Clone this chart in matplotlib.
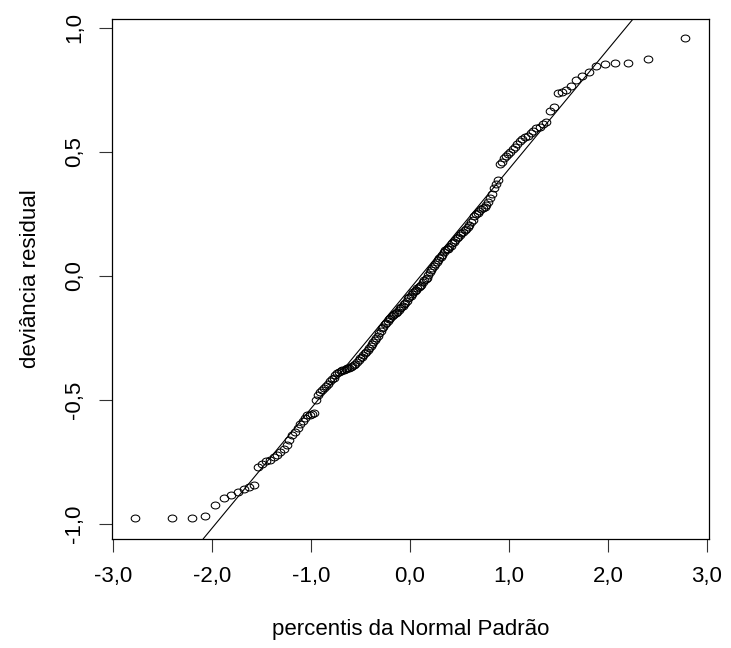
import matplotlib
matplotlib.use("Agg")
import matplotlib.pyplot as plt
import numpy as np
from matplotlib.path import Path
from matplotlib.transforms import Affine2D
from statistics import NormalDist

plt.rcParams["font.family"] = ["Liberation Sans", "DejaVu Sans"]

# Deviance residuals of the fitted model (sorted)
residuals = [
    -0.977, -0.977, -0.977, -0.967, -0.924, -0.897, -0.882, -0.872, -0.860, -0.850,
    -0.843, -0.769, -0.757, -0.748, -0.740, -0.731, -0.720, -0.709, -0.696, -0.682,
    -0.662, -0.643, -0.628, -0.612, -0.598, -0.586, -0.572, -0.562, -0.559, -0.556,
    -0.552, -0.500, -0.482, -0.470, -0.461, -0.451, -0.442, -0.434, -0.425, -0.417,
    -0.410, -0.399, -0.393, -0.389, -0.385, -0.381, -0.378, -0.376, -0.373, -0.370,
    -0.366, -0.362, -0.360, -0.357, -0.348, -0.340, -0.333, -0.326, -0.318, -0.312,
    -0.305, -0.299, -0.290, -0.282, -0.273, -0.265, -0.258, -0.250, -0.242, -0.232,
    -0.222, -0.212, -0.205, -0.195, -0.188, -0.182, -0.175, -0.168, -0.163, -0.158,
    -0.155, -0.150, -0.145, -0.138, -0.130, -0.125, -0.120, -0.115, -0.110, -0.100,
    -0.090, -0.085, -0.080, -0.072, -0.066, -0.060, -0.056, -0.050, -0.045, -0.040,
    -0.035, -0.025, -0.018, -0.012, -0.008, 0.005, 0.015, 0.025, 0.032, 0.038,
    0.046, 0.055, 0.062, 0.070, 0.077, 0.085, 0.095, 0.103, 0.107, 0.110,
    0.115, 0.122, 0.131, 0.138, 0.145, 0.152, 0.158, 0.165, 0.172, 0.178,
    0.185, 0.190, 0.195, 0.205, 0.215, 0.225, 0.240, 0.250, 0.255, 0.262,
    0.270, 0.275, 0.278, 0.285, 0.298, 0.313, 0.330, 0.354, 0.370, 0.386,
    0.450, 0.458, 0.473, 0.482, 0.490, 0.500, 0.510, 0.520, 0.530, 0.545,
    0.552, 0.558, 0.565, 0.575, 0.585, 0.595, 0.600, 0.610, 0.620, 0.665,
    0.680, 0.735, 0.742, 0.750, 0.765, 0.790, 0.805, 0.822, 0.845, 0.855,
    0.858, 0.858, 0.872, 0.959,
]

# Reference line drawn over the points
line_intercept = -0.052
line_slope = 0.482

x_ticks = [-3.0, -2.0, -1.0, 0.0, 1.0, 2.0, 3.0]
x_tick_labels = ["-3,0", "-2,0", "-1,0", "0,0", "1,0", "2,0", "3,0"]
y_ticks = [-1.0, -0.5, 0.0, 0.5, 1.0]
y_tick_labels = ["-1,0", "-0,5", "0,0", "0,5", "1,0"]

x_title = "percentis da Normal Padrão"
y_title = "deviância residual"

# Normal QQ coordinates: theoretical quantiles at plotting positions (i - 0.5) / n
std_normal = NormalDist()
dev = np.sort(np.asarray(residuals))
n = len(dev)
probs = (np.arange(1, n + 1) - 0.5) / n
theo = np.array([std_normal.inv_cdf(p) for p in probs])

# Slightly wide open-circle marker
oval = Path.unit_circle().transformed(Affine2D().scale(1.25, 1.0))

fig = plt.figure(figsize=(7.31, 6.48), dpi=100)
ax = fig.add_axes([0.1536, 0.1687, 0.8159, 0.8024])

ax.plot(theo, dev, linestyle="none", marker=oval, markerfacecolor="none",
        markeredgecolor="black", markersize=6.2, markeredgewidth=0.75)
ax.axline((0.0, line_intercept), slope=line_slope, color="black", linewidth=0.8)

ax.set_xlim(-3.01, 3.02)
ax.set_ylim(-1.059, 1.036)

ax.set_xticks(x_ticks)
ax.set_xticklabels(x_tick_labels)
ax.set_yticks(y_ticks)
ax.set_yticklabels(y_tick_labels, rotation=90, va="center")

for spine in ax.spines.values():
    spine.set_linewidth(0.9)
    spine.set_color("black")

ax.tick_params(axis="both", direction="out", length=9.4, width=0.8,
               color="#333333", labelsize=16, labelcolor="black")
ax.tick_params(axis="x", pad=10)
ax.tick_params(axis="y", pad=10)

ax.set_xlabel(x_title, fontsize=16, va="center")
ax.xaxis.set_label_coords(0.5, -0.1756)
ax.set_ylabel(y_title, fontsize=16, va="center")
ax.yaxis.set_label_coords(-0.137, 0.5)

fig.savefig("out.png", dpi=100)
